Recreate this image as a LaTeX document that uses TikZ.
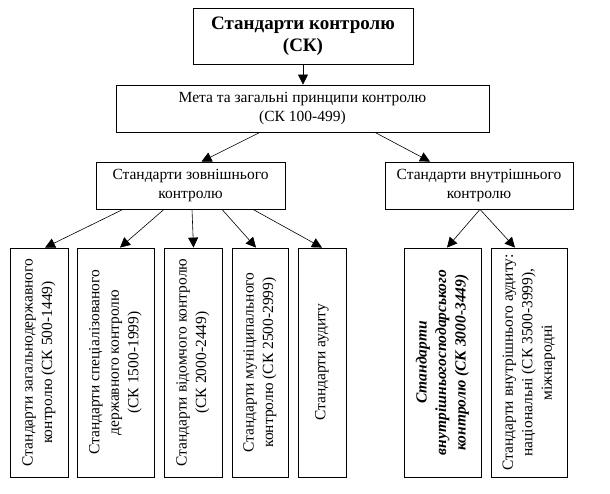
\documentclass[tikz,border=0pt]{standalone}
\usepackage{fontspec}
\setmainfont{Liberation Serif}
\usetikzlibrary{arrows.meta}
\newcommand\txt{\fontsize{15.5}{19.5}\selectfont}
\newcommand\vtext[1]{\rotatebox{90}{\parbox{225pt}{\centering\txt #1}}}
\tikzset{
  box/.style={draw, line width=0.8pt, inner sep=0pt, align=center, font=\txt},
  vbox/.style={draw, line width=0.8pt, inner sep=0pt, minimum height=229pt},
  arr/.style={line width=0.6pt, -{Triangle[length=10pt,width=10pt]}}
}
\begin{document}
\begin{tikzpicture}[x=1pt,y=1pt]
\useasboundingbox (0,0) rectangle (610,493);
\node[box, minimum width=220pt, minimum height=56pt, font=\fontsize{19}{21.5}\selectfont\bfseries] (top) at (303,457) {Стандарти контролю\\(СК)};
\node[box, minimum width=373pt, minimum height=47pt] (goal) at (302.5,384.5) {Мета та загальні принципи контролю\\(СК 100-499)};
\node[box, minimum width=189pt, minimum height=47pt] (ext) at (190.5,307.5) {Стандарти зовнішнього\\контролю};
\node[box, minimum width=188pt, minimum height=47pt] (int) at (479,307.5) {Стандарти внутрішнього\\контролю};

\node[vbox, minimum width=58pt] (b1) at (39,130.5) {\vtext{Стандарти загальнодержавного\\контролю (СК 500-1449)}};
\node[vbox, minimum width=77pt] (b2) at (115.5,130.5) {\vtext{Стандарти спеціалізованого\\державного контролю\\(СК 1500-1999)}};
\node[vbox, minimum width=58pt] (b3) at (193,130.5) {\vtext{Стандарти відомчого контролю\\(СК 2000-2449)}};
\node[vbox, minimum width=56pt] (b4) at (260,130.5) {\vtext{Стандарти муніципального\\контролю (СК 2500-2999)}};
\node[vbox, minimum width=48pt] (b5) at (322,130.5) {\vtext{Стандарти аудиту}};
\node[vbox, minimum width=77pt] (b6) at (442.5,130.5) {\vtext{\bfseries\itshape Стандарти\\внутрішньогосподарського\\контролю (СК 3000-3449)}};
\node[vbox, minimum width=76pt] (b7) at (529,130.5) {\vtext{Стандарти внутрішнього аудиту:\\національні (СК 3500-3999),\\міжнародні}};

\draw[arr] (top.south) -- (top.south |- goal.north);
\draw[arr] ([xshift=-42.5pt]goal.south) -- ([xshift=11pt]ext.north);
\draw[arr] ([xshift=72.5pt]goal.south) -- ([xshift=-49pt]int.north);

\draw[arr] ([xshift=-67.5pt]ext.south) -- ([xshift=6pt]b1.north);
\draw[arr] ([xshift=-26.5pt]ext.south) -- ([xshift=4.5pt]b2.north);
\draw[arr] ([xshift=1.5pt]ext.south) -- ([xshift=0.5pt]b3.north);
\draw[arr] ([xshift=31.5pt]ext.south) -- ([xshift=-4pt]b4.north);
\draw[arr] ([xshift=62.5pt]ext.south) -- (b5.north);

\draw[arr] ([xshift=1pt]int.south) -- ([xshift=4.5pt]b6.north);
\draw[arr] ([xshift=1pt]int.south) -- ([xshift=-14pt]b7.north);
\end{tikzpicture}
\end{document}
